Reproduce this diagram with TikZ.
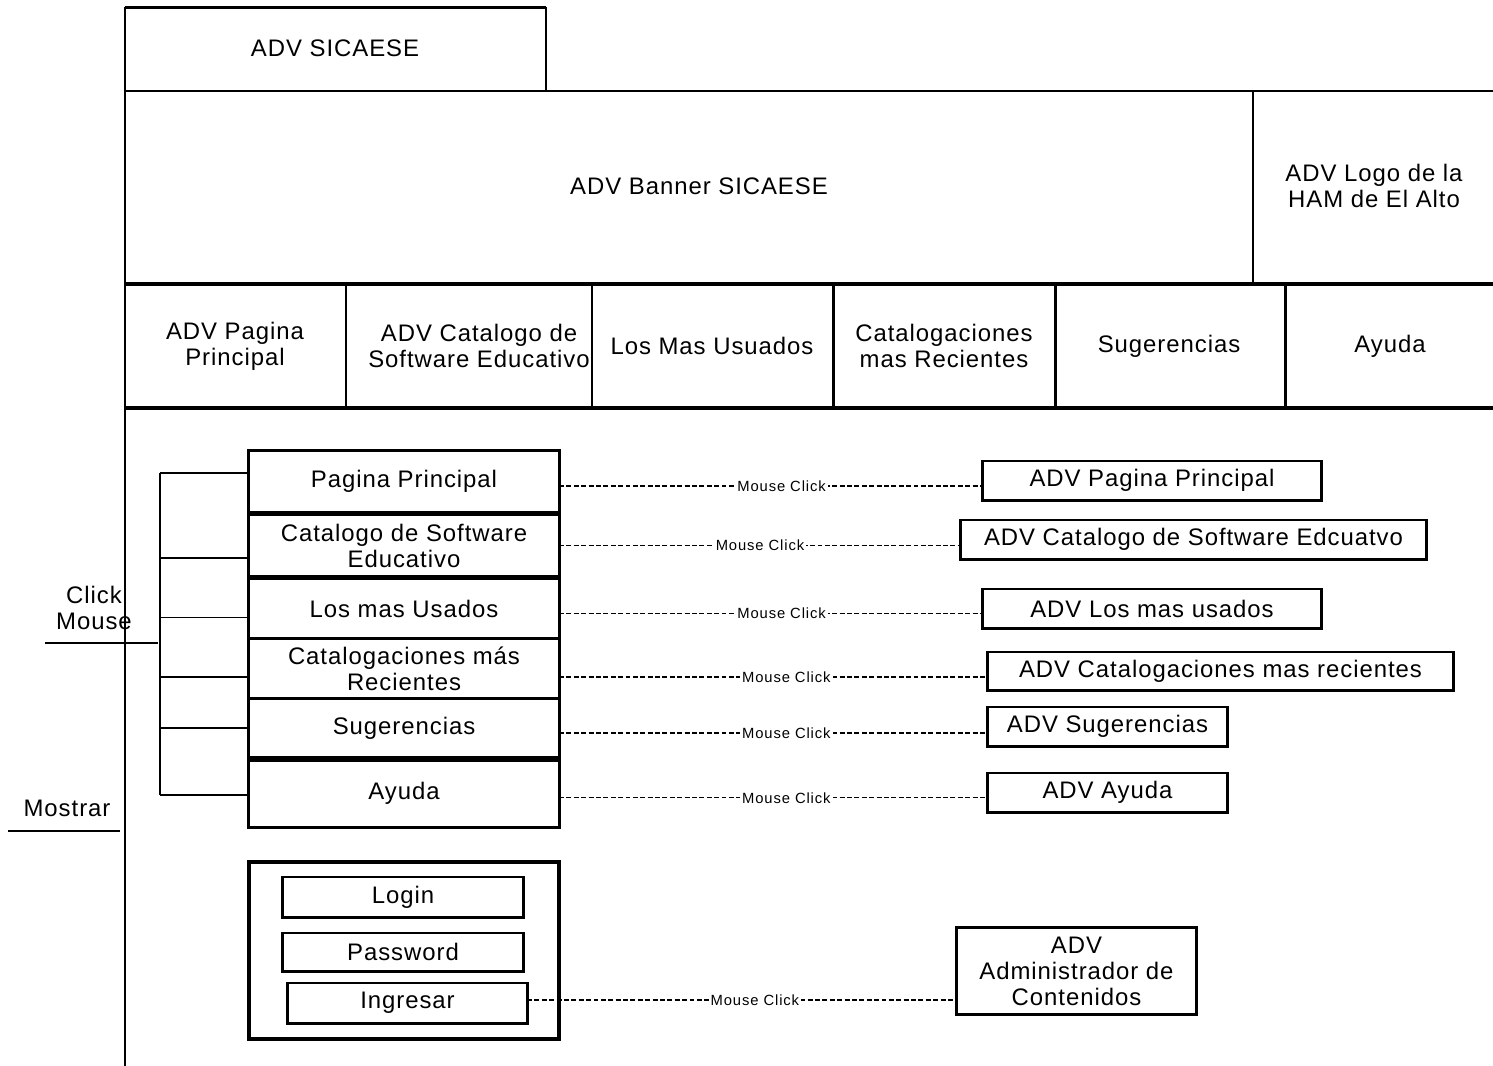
\documentclass[tikz,border=0pt]{standalone}
\usepackage{fontspec}
\setmainfont{Liberation Sans}[LetterSpace=4.0]
\newfontfamily\clickfont{Liberation Sans}[LetterSpace=6.0]
\begin{document}
\begin{tikzpicture}[x=0.01cm,y=-0.01cm,
  txt/.style={font=\fontsize{6.8}{7.4}\selectfont, align=center, inner sep=0pt},
  rule2/.style={line width=0.57pt},
  rule3/.style={line width=0.85pt},
  rule4/.style={line width=1.25pt},
  menubox/.style={txt, draw, line width=0.85pt, minimum width=3.1cm, outer sep=0pt},
  advbox/.style={txt, draw, line width=0.85pt, minimum height=0.39cm, outer sep=0pt},
  loginbox/.style={txt, draw, line width=0.85pt, minimum height=0.39cm, outer sep=0pt},
  tie/.style={line width=0.35pt},
  conn/.style={line width=0.35pt, dash pattern=on 1.4pt off 0.7pt},
  clicklab/.style={font=\clickfont\fontsize{4.2}{5}\selectfont, fill=white, inner sep=0.6pt}
]
\useasboundingbox (0,0) rectangle (1493,1066);

% ---- page frame: header, banner and menu bar ----
\draw[rule3] (125,7) -- (546,7);
\draw[rule2] (546,7) -- (546,91);
\draw[rule2] (125,7) -- (125,1066);
\draw[rule2] (125,91) -- (1493,91);
\draw[rule2] (1253,91) -- (1253,284);
\draw[rule4] (125,284) -- (1493,284);
\draw[rule4] (125,408) -- (1493,408);
\draw[rule3] (346,284) -- (346,408);
\draw[rule2] (592,284) -- (592,408);
\draw[rule3] (833,284) -- (833,408);
\draw[rule3] (1055,284) -- (1055,408);
\draw[rule3] (1285,284) -- (1285,408);

\node[txt] (title) at (335,48) {ADV SICAESE};
\node[txt] (banner) at (699,186) {ADV Banner SICAESE};
\node[txt] (logo) at (1374,186) {ADV Logo de la\\HAM de El Alto};

\node[txt] (m1) at (235,346) {ADV Pagina\\Principal};
\node[txt] (m2) at (479,346) {ADV Catalogo de\\Software Educativo};
\node[txt] (m3) at (712,346) {Los Mas Usuados};
\node[txt] (m4) at (944,346) {Catalogaciones\\mas Recientes};
\node[txt] (m5) at (1169,346) {Sugerencias};
\node[txt] (m6) at (1390,346) {Ayuda};

% ---- side labels ----
\node[txt] (click) at (94,608) {Click\\Mouse};
\draw[tie] (45,643) -- (158,643);
\node[txt] (mostrar) at (67,808) {Mostrar};
\draw[tie] (8,831) -- (120,831);

% ---- menu buttons ----
\node[menubox, minimum height=0.61cm]  (b1) at (404,481.5)  {Pagina Principal};
\node[menubox, minimum height=0.61cm]  (b2) at (404,545.5)  {Catalogo de Software\\Educativo};
\node[menubox, minimum height=0.595cm] (b3) at (404,608.75) {Los mas Usados};
\node[menubox, minimum height=0.60cm]  (b4) at (404,668.5)  {Catalogaciones más\\Recientes};
\node[menubox, minimum height=0.59cm]  (b5) at (404,728)    {Sugerencias};
\node[menubox, minimum height=0.665cm] (b6) at (404,793.75) {Ayuda};

% bracket joining the buttons
\coordinate (t1) at ([yshift=0.085cm]b1.west);
\coordinate (t2) at ([yshift=-0.125cm]b2.west);
\coordinate (t3) at ([yshift=-0.085cm]b3.west);
\coordinate (t4) at ([yshift=-0.085cm]b4.west);
\coordinate (t5) at (b5.west);
\coordinate (t6) at ([yshift=-0.0125cm]b6.west);
\coordinate (spine) at (160,0);
\draw[tie] (t1 -| spine) -- (t6 -| spine);
\foreach \t in {t1,t2,t3,t4,t5,t6} \draw[tie] (\t) -- (\t -| spine);

% ---- target views ----
\node[advbox, minimum width=3.38cm] (r1) at (1152,480.5)  {ADV Pagina Principal};
\node[advbox, minimum width=4.65cm] (r2) at (1193.5,539.5) {ADV Catalogo de Software Edcuatvo};
\node[advbox, minimum width=3.38cm] (r3) at (1152,608.5)  {ADV Los mas usados};
\node[advbox, minimum width=4.65cm, minimum height=0.38cm] (r4) at (1220.5,671) {ADV Catalogaciones mas recientes};
\node[advbox, minimum width=2.39cm] (r5) at (1107.5,726.5) {ADV Sugerencias};
\node[advbox, minimum width=2.39cm] (r6) at (1107.5,792.5) {ADV Ayuda};
\node[advbox, minimum width=2.39cm, minimum height=0.86cm] (r7) at (1076.5,971) {ADV\\Administrador de\\Contenidos};

% ---- login panel ----
\node[draw, line width=1.1pt, minimum width=3.1cm, minimum height=1.77cm, inner sep=0pt] (panel) at (404,950.5) {};
\node[loginbox, minimum width=2.4cm, minimum height=0.40cm] (login) at (403,897) {Login};
\node[loginbox, minimum width=2.4cm, minimum height=0.38cm] (pass) at (403,952) {Password};
\node[loginbox, minimum width=2.39cm, minimum height=0.40cm] (ingresar) at (407.5,1003) {Ingresar};

% ---- click connectors ----
\coordinate (c1) at ([yshift=-0.045cm]b1.east);
\coordinate (c2) at (b2.east);
\coordinate (c3) at ([yshift=-0.045cm]b3.east);
\coordinate (c4) at ([yshift=-0.085cm]b4.east);
\coordinate (c5) at ([yshift=-0.05cm]b5.east);
\coordinate (c6) at ([yshift=-0.04cm]b6.east);
\coordinate (c7) at ([yshift=0.03cm]ingresar.east);
\draw[conn] (c1) -- (c1 -| r1.west) node[clicklab, pos=0.525] {Mouse Click};
\draw[conn] (c2) -- (c2 -| r2.west) node[clicklab, pos=0.5]   {Mouse Click};
\draw[conn] (c3) -- (c3 -| r3.west) node[clicklab, pos=0.525] {Mouse Click};
\draw[conn] (c4) -- (c4 -| r4.west) node[clicklab, pos=0.53]  {Mouse Click};
\draw[conn] (c5) -- (c5 -| r5.west) node[clicklab, pos=0.53]  {Mouse Click};
\draw[conn] (c6) -- (c6 -| r6.west) node[clicklab, pos=0.53]  {Mouse Click};
\draw[conn] (c7) -- (c7 -| r7.west) node[clicklab, pos=0.53]  {Mouse Click};
\end{tikzpicture}
\end{document}
